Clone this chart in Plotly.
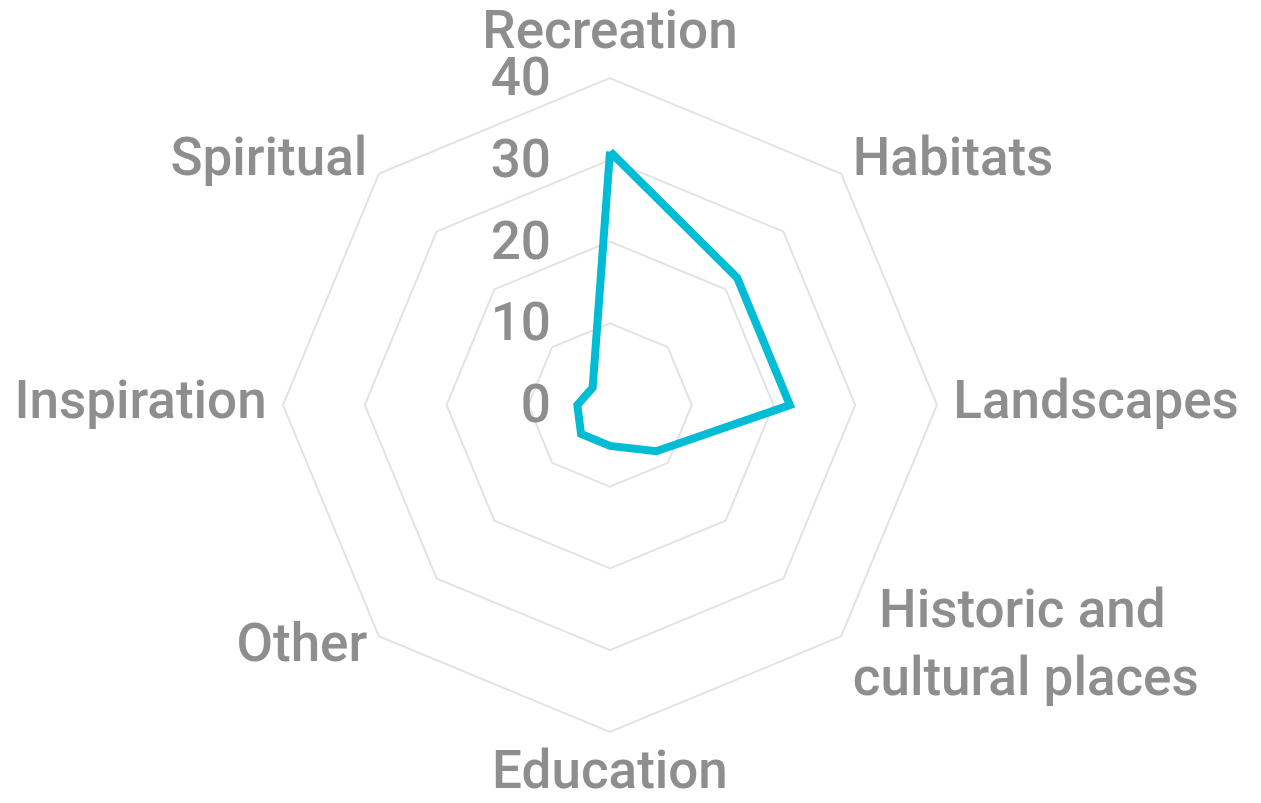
import plotly.graph_objects as go

categories = ["Recreation", "Habitats", "Landscapes", "Historic and cultural places",
              "Education", "Other", "Inspiration", "Spiritual"]
label_text = ["Recreation", "Habitats", "Landscapes",
              "&nbsp;&nbsp;Historic and<br>cultural places",
              "Education", "Other", "Inspiration", "Spiritual"]
label_pos = ["top center", "middle right", "middle right", "middle right",
             "bottom center", "middle left", "middle left", "middle left"]
values = [31, 22, 22, 8, 5, 5, 4, 3]
tick_vals = [0, 10, 20, 30, 40]
tick_text = ["0", "10", "20", "30", "40"]
label_r = 42
r_max = 43

grey = "#8e8e8e"
gridc = "#e3e3e3"
fnt = dict(family="Roboto", size=53, color=grey, weight=500)

fig = go.Figure()
fig.add_trace(go.Scatterpolar(
    r=values + values[:1],
    theta=categories + categories[:1],
    mode="lines",
    line=dict(color="#00bcd4", width=8),
    showlegend=False,
    hoverinfo="skip",
))
fig.add_trace(go.Scatterpolar(
    r=[label_r] * len(categories),
    theta=categories,
    mode="text",
    text=label_text,
    textposition=label_pos,
    textfont=fnt,
    cliponaxis=False,
    showlegend=False,
    hoverinfo="skip",
))

cx, cy, rad = 610, 405, 327 * r_max / 40
fig.update_layout(
    width=1261, height=803,
    margin=dict(l=0, r=0, t=0, b=0),
    paper_bgcolor="white",
    font=fnt,
    polar=dict(
        domain=dict(x=[(cx - rad) / 1261, (cx + rad) / 1261],
                    y=[(803 - cy - rad) / 803, (803 - cy + rad) / 803]),
        gridshape="linear",
        bgcolor="rgba(0,0,0,0)",
        angularaxis=dict(
            rotation=90, direction="clockwise",
            showgrid=False, showline=False,
            ticks="", showticklabels=False,
        ),
        radialaxis=dict(
            range=[0, r_max], angle=90, tickangle=90,
            tickvals=tick_vals, ticktext=tick_text,
            showline=False, gridcolor=gridc, gridwidth=1.5,
            ticks="outside", ticklen=40, tickcolor="rgba(0,0,0,0)",
            tickfont=fnt,
            side="counterclockwise",
        ),
    ),
)

fig.write_html("out.html")
